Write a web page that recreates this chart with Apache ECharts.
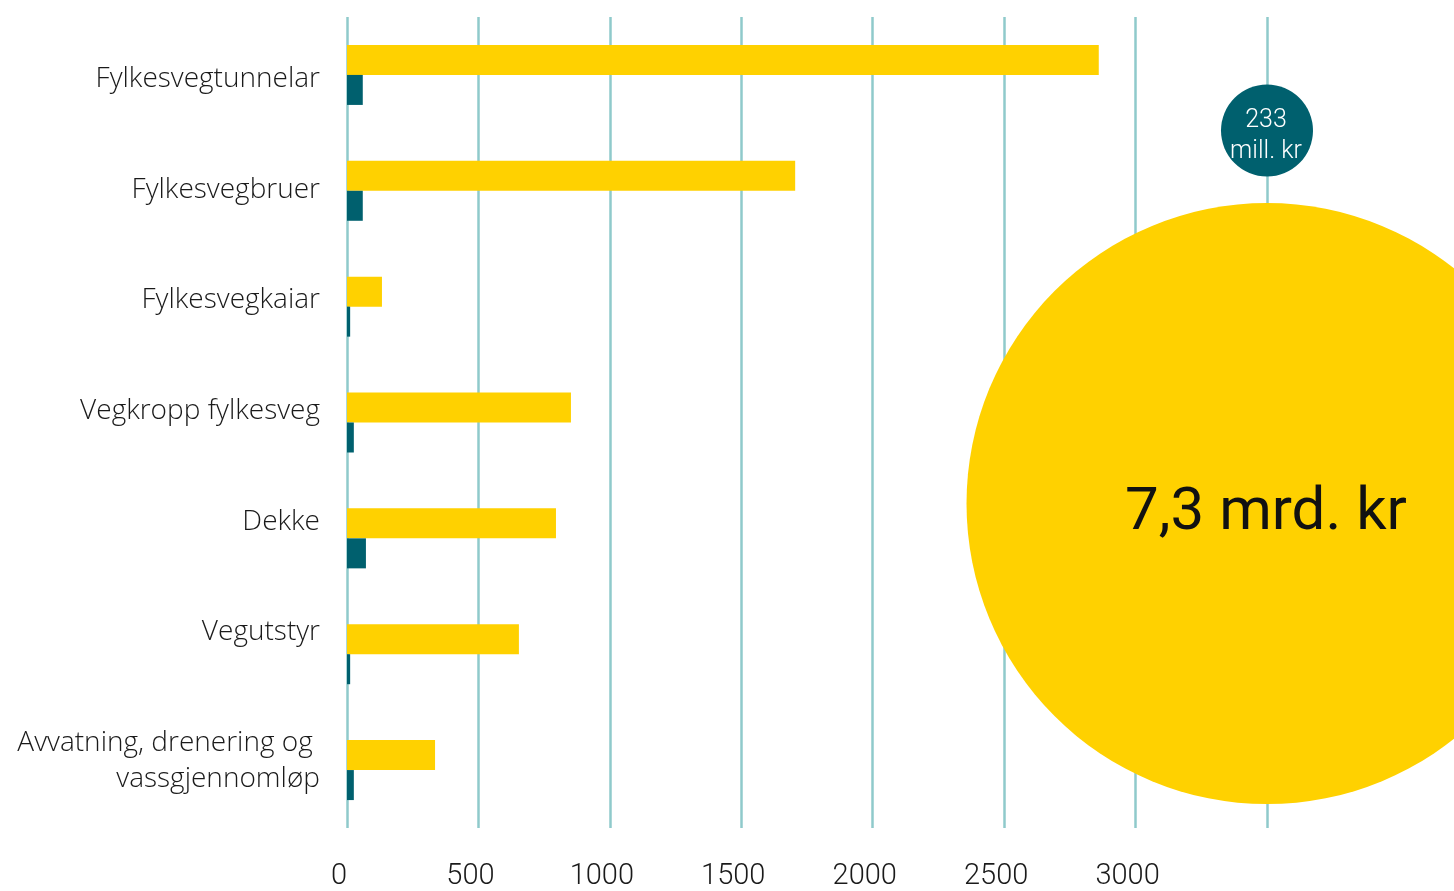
<!DOCTYPE html>
<html>
<head>
<meta charset="utf-8">
<script src="https://cdn.jsdelivr.net/npm/echarts@6/dist/echarts.min.js"></script>
<style>
html,body{margin:0;padding:0;background:#fff;}
#chart{width:1454px;height:891px;}
</style>
</head>
<body>
<div id="chart"></div>
<script>
const categories = ["Fylkesvegtunnelar", "Fylkesvegbruer", "Fylkesvegkaiar", "Vegkropp fylkesveg", "Dekke", "Vegutstyr", "Avvatning, drenering og \nvassgjennomløp"];
const totalCost = [2860, 1705, 133, 852, 795, 654, 335];
const yearlyCost = [60, 60, 12, 26, 72, 12, 26];
const xTicks = [0, 500, 1000, 1500, 2000, 2500, 3000];
const bubbleTotals = [
  { name: "total", value: 7300, label: "7,3 mrd. kr" },
  { name: "year", value: 233, label: "233\nmill. kr" }
];

const YELLOW = "#FFD100";
const TEAL = "#00606E";
const GRID = "#8FCACB";
const FONT = "Roboto";
const LABEL_FONT = "Open Sans";

const chart = echarts.init(document.getElementById('chart'));
const option = {
  animation: false,
  grid: [
    { left: 347, right: 187, top: 17, bottom: 62, containLabel: false },
    { left: 347, right: 187, top: 24, height: 774, containLabel: false }
  ],
  xAxis: [
    {
      type: 'value', min: 0, max: 3500, interval: 500, gridIndex: 0,
      axisLine: { show: false }, axisTick: { show: false },
      splitLine: { show: true, lineStyle: { color: GRID, width: 2.5 } },
      axisLabel: {
        margin: 34, fontFamily: FONT, fontWeight: 300, fontSize: 29, color: '#1a1a1a',
        padding: [0, 16, 0, 0],
        formatter: v => xTicks.indexOf(v) >= 0 ? String(v) : ''
      }
    },
    { type: 'value', gridIndex: 1, show: false, min: 0, max: 1 }
  ],
  yAxis: [
    {
      type: 'category', data: categories, inverse: true, gridIndex: 0,
      axisLine: { show: false }, axisTick: { show: false }, splitLine: { show: false },
      axisLabel: { show: false }
    },
    { type: 'value', min: 0, max: 100, inverse: true, show: false, gridIndex: 0 },
    {
      type: 'category', data: categories, inverse: true, gridIndex: 1,
      axisLine: { show: false }, axisTick: { show: false }, splitLine: { show: false },
      axisLabel: {
        margin: 27, fontFamily: LABEL_FONT, fontWeight: 300, fontSize: 28, color: '#1a1a1a', lineHeight: 36,
        formatter: v => v.indexOf('\n') >= 0 ? '\n' + v : v
      }
    }
  ],
  series: [
    {
      type: 'bar', data: totalCost, barWidth: 30, barGap: '0%',
      itemStyle: { color: YELLOW }, z: 3
    },
    {
      type: 'bar', data: yearlyCost, barWidth: 30, barGap: '0%',
      itemStyle: { color: TEAL }, z: 3
    },
    {
      type: 'scatter', yAxisIndex: 1, clip: false, z: 4,
      data: [
        {
          value: [3500, 60, bubbleTotals[0].value], symbolSize: 601,
          itemStyle: { color: YELLOW, opacity: 1 },
          label: { show: true, position: 'inside', formatter: bubbleTotals[0].label,
            fontFamily: FONT, fontWeight: 400, fontSize: 60, color: '#111', offset: [-1, 10] }
        },
        {
          value: [3500, 14, bubbleTotals[1].value], symbolSize: 92,
          itemStyle: { color: TEAL, opacity: 1 },
          label: { show: true, position: 'inside', formatter: bubbleTotals[1].label,
            fontFamily: FONT, fontWeight: 300, fontSize: 25, lineHeight: 31, color: '#fff', offset: [-1, 6] }
        }
      ]
    }
  ]
};
chart.setOption(option);
</script>
</body>
</html>
